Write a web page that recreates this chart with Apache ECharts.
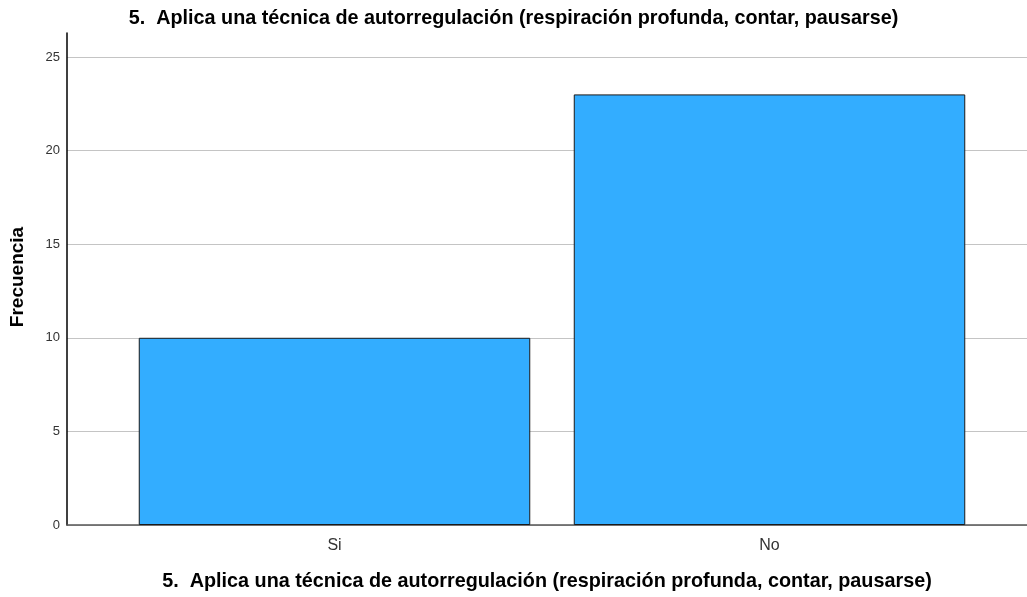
<!DOCTYPE html>
<html><head><meta charset="utf-8">
<script src="https://cdn.jsdelivr.net/npm/echarts@6/dist/echarts.min.js"></script>
<style>html,body{margin:0;padding:0;background:#fff}#c{width:1027px;height:597px}</style>
</head><body><div id="c"></div>
<script>
const categories = ['Si', 'No'];
const frequencies = [10, 23];
const yTicks = [0, 5, 10, 15, 20, 25];
const titleText = '5.  Aplica una técnica de autorregulación (respiración profunda, contar, pausarse)';
const yName = 'Frecuencia';

const chart = echarts.init(document.getElementById('c'));
const yMax = 26.28;
const font = 'Liberation Sans, Arial';
chart.setOption({
  animation: false,
  title: {
    text: titleText, left: 'center', top: 4,
    textStyle: {fontFamily: font, fontSize: 19.8, fontWeight: 'bold', color: '#000'}
  },
  grid: [
    {left: 67, right: 0, top: 33, bottom: 72},
    {left: 117, right: 40, top: 33, bottom: 72}
  ],
  xAxis: [
    {gridIndex: 0, type: 'category', data: [''], axisLine: {lineStyle: {color: '#555', width: 1.5}},
     axisTick: {show: false}, axisLabel: {show: false},
     name: titleText, nameLocation: 'middle', nameGap: 47,
     nameTextStyle: {fontFamily: font, fontSize: 19.8, fontWeight: 'bold', color: '#000'}},
    {gridIndex: 1, type: 'category', data: categories, axisLine: {show: false}, axisTick: {show: false},
     axisLabel: {fontFamily: font, fontSize: 16, color: '#333', margin: 13}}
  ],
  yAxis: [
    {gridIndex: 0, type: 'value', min: 0, max: yMax, interval: 5,
     axisLine: {show: true, lineStyle: {color: '#000', width: 1.5}}, axisTick: {show: false},
     axisLabel: {fontFamily: font, fontSize: 13, color: '#333', margin: 7,
       formatter: v => yTicks.includes(v) ? String(v) : ''},
     splitLine: {showMaxLine: false, lineStyle: {color: '#c4c4c4', width: 1}}},
    {gridIndex: 1, type: 'value', min: 0, max: yMax, interval: 5, show: false, splitLine: {show: false}}
  ],
  graphic: [{
    type: 'text', x: 18, y: 277, rotation: Math.PI / 2,
    style: {text: yName, font: 'bold 19px ' + font, fill: '#000', align: 'center', verticalAlign: 'middle'}
  }],
  series: [{
    type: 'bar', xAxisIndex: 1, yAxisIndex: 1, data: frequencies, barWidth: '90%',
    itemStyle: {color: '#33adff', borderColor: '#1a1a1a', borderWidth: 1}
  }]
});
</script></body></html>
